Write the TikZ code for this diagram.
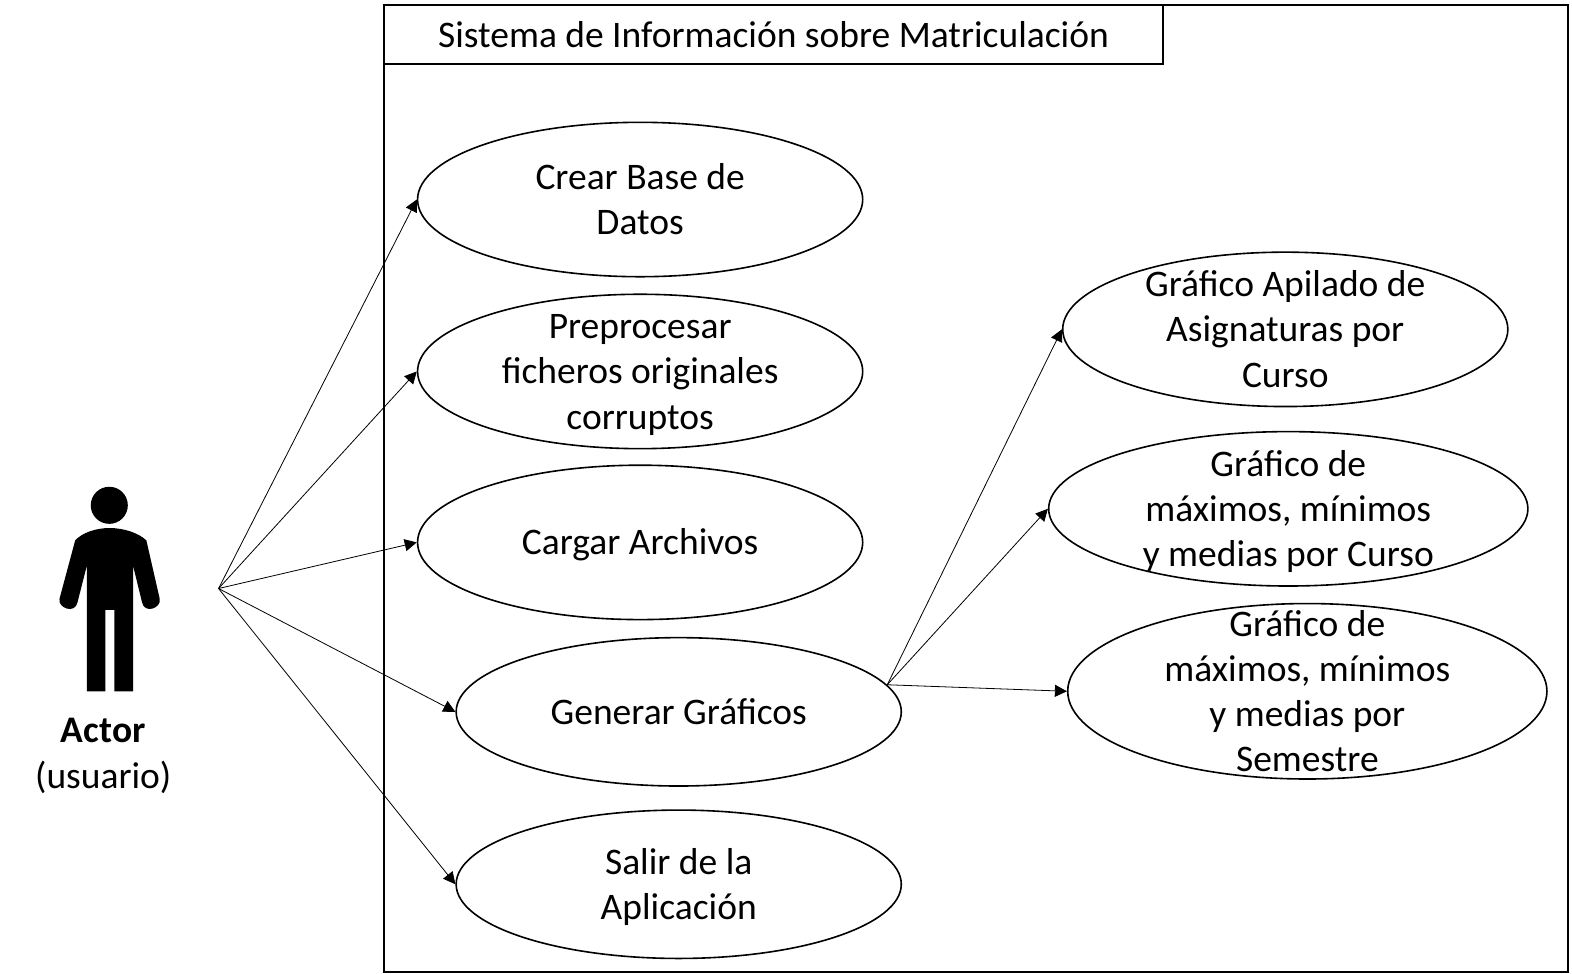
\documentclass[tikz,border=0pt]{standalone}
\usepackage{fontspec}
\setmainfont{Carlito}
\usepackage{tikz}
\usetikzlibrary{arrows.meta,shapes.geometric}
\newcommand{\puntal}{\vrule height 17.25pt depth 4.75pt width 0pt}
\tikzstyle{caso} = [ellipse, draw, line width=0.8pt, inner xsep=0pt, inner ysep=-30pt, minimum width=222pt, minimum height=77pt, align=center]
\tikzstyle{caja} = [draw, line width=0.9pt]
\tikzstyle{flecha} = [-{Triangle[length=6pt,width=6pt]}, line width=0.4pt]

\begin{document}
\begin{tikzpicture}[x=0.5pt,y=-0.5pt]
\tikzset{every node/.append style={font=\fontsize{18.7}{22.5}\selectfont}}
\useasboundingbox (1,1) rectangle (1569,972.5);
\node[caja, minimum width=590.5pt, minimum height=482.5pt, inner sep=0pt, anchor=north west] (sis) at (383,5) {};
\node[caja, minimum width=388.5pt, minimum height=29.5pt, inner sep=0pt, anchor=north west] (tit) at (383,5) {};
\node (tx) at (772.5,36) {Sistema de Información sobre Matriculación};

\node[caso] (n1) at (639.5,200) {\puntal Crear Base de\\Datos\puntal};
\node[caso] (n2) at (639.5,371.5) {\puntal Preprocesar\\ficheros originales\\corruptos\puntal};
\node[caso] (n3) at (639.5,542) {\puntal Cargar Archivos};
\node[caso, minimum height=74pt] (n4) at (678,711) {\puntal Generar Gráficos};
\node[caso, minimum height=74pt] (n5) at (678,883) {\puntal Salir de la\\Aplicación\puntal};
\node[caso] (n6) at (1283,329.5) {\puntal Gráfico Apilado de\\Asignaturas por\\Curso\puntal};
\node[caso, minimum width=239pt] (n7) at (1286,508.5) {\puntal Gráfico de\\máximos, mínimos\\y medias por Curso\puntal};
\node[caso, minimum width=239pt, minimum height=87.5pt] (n8) at (1305,690.5) {\puntal Gráfico de\\máximos, mínimos\\y medias por\\Semestre\puntal};

% figura del actor
\fill (110,505) circle (18.5);
\begin{scope}[shift={(21,470)}, scale=1/3]
\fill (268,173) .. controls (225,173) and (185,188) .. (165,210)
  -- (118,385) .. controls (112,412) and (165,432) .. (172,395)
  -- (200,285) -- (200,662) -- (255,662) -- (255,418) -- (282,418) -- (282,662) -- (338,662) -- (338,285)
  -- (365,395) .. controls (372,432) and (424,412) .. (418,385)
  -- (378,210) .. controls (355,188) and (311,173) .. (268,173) -- cycle;
\end{scope}
\node[align=center] (act) at (104,752) {\puntal\textbf{Actor}\\(usuario)\puntal};

\coordinate (a0) at (219,588);
\coordinate (g0) at (886,684);

\foreach \to in {n1,n2,n3,n4,n5}
{
	\draw[flecha] (a0) -- (\to.west);
}
\foreach \to in {n6,n7,n8}
{
	\draw[flecha] (g0) -- (\to.west);
}
\end{tikzpicture}
\end{document}
